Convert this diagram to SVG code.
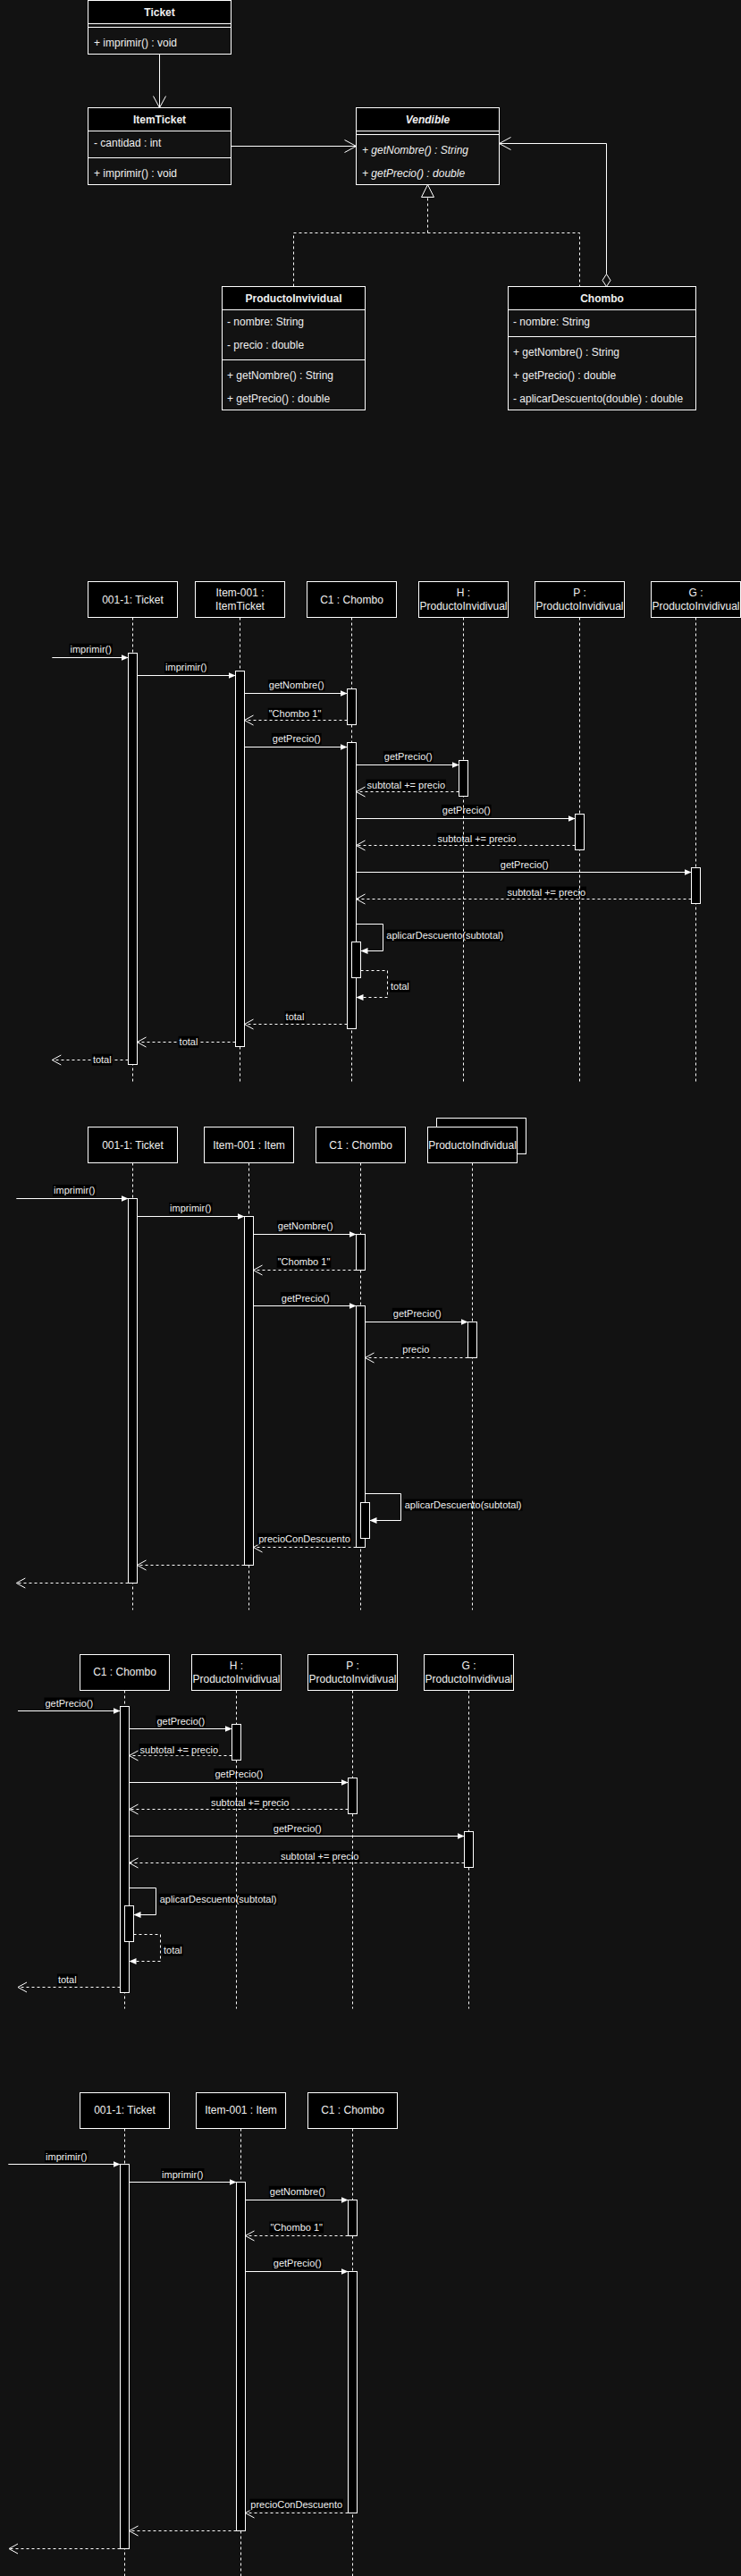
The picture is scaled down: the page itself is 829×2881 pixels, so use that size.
<svg xmlns="http://www.w3.org/2000/svg" width="829" height="2881" viewBox="0 0 829 2881">
<defs>
<style>
text{font-family:"Liberation Sans",Arial,Helvetica,sans-serif;fill:#f0f0f0}
.t12{font-size:12px}
.t11{font-size:11px}
.b{font-weight:bold}
.i{font-style:italic}
.mid{text-anchor:middle}
.hd{fill:#000;stroke:#fff;stroke-width:1}
.bd{fill:#121212;stroke:#fff;stroke-width:1}
.sep{stroke:#fff;stroke-width:1}
.box{fill:#000;stroke:#fff;stroke-width:1}
.life{stroke:#fff;stroke-width:1;stroke-dasharray:3 3;fill:none}
.act{fill:#000;stroke:#fff;stroke-width:1}
.msg{stroke:#fff;stroke-width:1;fill:none;marker-end:url(#blk)}
.ret{stroke:#fff;stroke-width:1;fill:none;stroke-dasharray:3 3;marker-end:url(#opn)}
.sret{stroke:#fff;stroke-width:1;fill:none;stroke-dasharray:3 3;marker-end:url(#blk)}
.lb{fill:#000}
.assoc{stroke:#fff;stroke-width:1;fill:none;marker-end:url(#opnB)}
.real{stroke:#fff;stroke-width:1;fill:none;stroke-dasharray:3 3}
</style>
<marker id="blk" markerUnits="userSpaceOnUse" markerWidth="8" markerHeight="7" refX="8" refY="3.5" orient="auto"><path d="M0,0 L8,3.5 L0,7 Z" fill="#fff"/></marker>
<marker id="opn" markerUnits="userSpaceOnUse" markerWidth="12" markerHeight="13" refX="10" refY="5.5" orient="auto" overflow="visible"><path d="M0,0 L10,5.5 L0,11" fill="none" stroke="#fff" stroke-width="1"/></marker>
<marker id="opnB" markerUnits="userSpaceOnUse" markerWidth="15" markerHeight="16" refX="13" refY="7" orient="auto" overflow="visible"><path d="M0,0 L13,7 L0,14" fill="none" stroke="#fff" stroke-width="1"/></marker>
</defs>
<rect x="0" y="0" width="829" height="2881" fill="#121212"/>

<!-- ================= CLASS DIAGRAM ================= -->
<g id="class-connectors">
<line class="assoc" x1="178.5" y1="60.5" x2="178.5" y2="120.5"/>
<line class="assoc" x1="258.5" y1="163.5" x2="398.5" y2="163.5"/>
<path class="assoc" d="M678.5,306.5 V160.5 H558.5"/>
<polygon points="678.5,320.5 683,313.5 678.5,306.5 674,313.5" fill="#121212" stroke="#fff"/>
<path class="real" d="M328.5,320.5 V260.5 H648.5 V320.5"/>
<path class="real" d="M478.5,260.5 V220.5"/>
<polygon points="478.5,206.5 485.5,220.5 471.5,220.5" fill="#121212" stroke="#fff"/>
</g>

<g id="cls-ticket">
<rect class="bd" x="98.5" y="0.5" width="160" height="60"/>
<rect class="hd" x="98.5" y="0.5" width="160" height="26"/>
<line class="sep" x1="98.5" y1="30.5" x2="258.5" y2="30.5"/>
<text class="t12 b mid" x="178.5" y="18">Ticket</text>
<text class="t12" x="105" y="52">+ imprimir() : void</text>
</g>

<g id="cls-itemticket">
<rect class="bd" x="98.5" y="120.5" width="160" height="86"/>
<rect class="hd" x="98.5" y="120.5" width="160" height="26"/>
<line class="sep" x1="98.5" y1="176.5" x2="258.5" y2="176.5"/>
<text class="t12 b mid" x="178.5" y="138">ItemTicket</text>
<text class="t12" x="105" y="164">- cantidad : int</text>
<text class="t12" x="105" y="197.5">+ imprimir() : void</text>
</g>

<g id="cls-vendible">
<rect class="bd" x="398.5" y="120.5" width="160" height="86"/>
<rect class="hd" x="398.5" y="120.5" width="160" height="26"/>
<line class="sep" x1="398.5" y1="150.5" x2="558.5" y2="150.5"/>
<text class="t12 b i mid" x="478.5" y="138">Vendible</text>
<text class="t12 i" x="405" y="172">+ getNombre() : String</text>
<text class="t12 i" x="405" y="197.5">+ getPrecio() : double</text>
</g>

<g id="cls-productoinvividual">
<rect class="bd" x="248.5" y="320.5" width="160" height="138"/>
<rect class="hd" x="248.5" y="320.5" width="160" height="26"/>
<line class="sep" x1="248.5" y1="402.5" x2="408.5" y2="402.5"/>
<text class="t12 b mid" x="328.5" y="338">ProductoInvividual</text>
<text class="t12" x="254" y="364">- nombre: String</text>
<text class="t12" x="254" y="390">- precio : double</text>
<text class="t12" x="254" y="423.5">+ getNombre() : String</text>
<text class="t12" x="254" y="449.5">+ getPrecio() : double</text>
</g>

<g id="cls-chombo">
<rect class="bd" x="568.5" y="320.5" width="210" height="138"/>
<rect class="hd" x="568.5" y="320.5" width="210" height="26"/>
<line class="sep" x1="568.5" y1="376.5" x2="778.5" y2="376.5"/>
<text class="t12 b mid" x="673.5" y="338">Chombo</text>
<text class="t12" x="574" y="364">- nombre: String</text>
<text class="t12" x="574" y="398">+ getNombre() : String</text>
<text class="t12" x="574" y="423.5">+ getPrecio() : double</text>
<text class="t12" x="574" y="450">- aplicarDescuento(double) : double</text>
</g>

<!-- ================= SEQUENCE 1 ================= -->
<g id="seq1-messages">
<line class="msg" x1="58.3" y1="735.5" x2="143.5" y2="735.5"/>
<rect class="lb" x="77.5" y="719.7" width="48.4" height="13"/>
<text class="t11 mid" x="101.7" y="730.1">imprimir()</text>

<line class="msg" x1="153.5" y1="755.5" x2="263.5" y2="755.5"/>
<rect class="lb" x="184.1" y="740" width="48.4" height="13"/>
<text class="t11 mid" x="208.3" y="750.4">imprimir()</text>

<line class="msg" x1="273.5" y1="775.5" x2="388.5" y2="775.5"/>
<rect class="lb" x="299.85" y="760" width="63.7" height="13"/>
<text class="t11 mid" x="331.7" y="770.4">getNombre()</text>

<line class="ret" x1="388.5" y1="805.5" x2="273.5" y2="805.5"/>
<rect class="lb" x="299.7" y="791.8" width="60.6" height="13"/>
<text class="t11 mid" x="330" y="802.2">"Chombo 1"</text>

<line class="msg" x1="273.5" y1="835.5" x2="388.5" y2="835.5"/>
<rect class="lb" x="303.8" y="819.9" width="55.8" height="13"/>
<text class="t11 mid" x="331.7" y="830.3">getPrecio()</text>

<line class="msg" x1="398.5" y1="855.5" x2="513.5" y2="855.5"/>
<rect class="lb" x="428.8" y="839.9" width="55.8" height="13"/>
<text class="t11 mid" x="456.7" y="850.3">getPrecio()</text>

<line class="ret" x1="513.5" y1="885.5" x2="398.5" y2="885.5"/>
<rect class="lb" x="409.6" y="871.7" width="89.4" height="13"/>
<text class="t11 mid" x="454.3" y="882.1">subtotal += precio</text>

<line class="msg" x1="398.5" y1="915.5" x2="643.5" y2="915.5"/>
<rect class="lb" x="493.8" y="899.8" width="55.8" height="13"/>
<text class="t11 mid" x="521.7" y="910.2">getPrecio()</text>

<line class="ret" x1="643.5" y1="945.5" x2="398.5" y2="945.5"/>
<rect class="lb" x="488.6" y="931.6" width="89.4" height="13"/>
<text class="t11 mid" x="533.3" y="942">subtotal += precio</text>

<line class="msg" x1="398.5" y1="975.5" x2="773.5" y2="975.5"/>
<rect class="lb" x="558.8" y="960.9" width="55.8" height="13"/>
<text class="t11 mid" x="586.7" y="971.3">getPrecio()</text>

<line class="ret" x1="773.5" y1="1005.5" x2="398.5" y2="1005.5"/>
<rect class="lb" x="566.6" y="991.6" width="89.4" height="13"/>
<text class="t11 mid" x="611.3" y="1002">subtotal += precio</text>

<path class="msg" d="M398.5,1033.5 H428.5 V1063.5 H403.5"/>
<rect class="lb" x="431.3" y="1039.7" width="132.8" height="13"/>
<text class="t11" x="432.3" y="1050.1">aplicarDescuento(subtotal)</text>

<path class="sret" d="M403.5,1085.5 H433.5 V1115.5 H398.5"/>
<rect class="lb" x="436" y="1096.6" width="22.8" height="13"/>
<text class="t11" x="437" y="1107">total</text>

<line class="ret" x1="388.5" y1="1145.5" x2="273.5" y2="1145.5"/>
<rect class="lb" x="318.6" y="1130.7" width="22.8" height="13"/>
<text class="t11 mid" x="330" y="1141.1">total</text>

<line class="ret" x1="263.5" y1="1165.5" x2="153.5" y2="1165.5"/>
<rect class="lb" x="199.6" y="1158.8" width="22.8" height="13"/>
<text class="t11 mid" x="211" y="1169.2">total</text>

<line class="ret" x1="143.5" y1="1185.5" x2="58.3" y2="1185.5"/>
<rect class="lb" x="102.9" y="1178.7" width="22.8" height="13"/>
<text class="t11 mid" x="114.3" y="1189.1">total</text>
</g>

<g id="seq1-ticket">
<rect class="box" x="98.5" y="650.5" width="100" height="40"/>
<text class="t12 mid" x="148.5" y="674.7">001-1: Ticket</text>
<line class="life" x1="148.5" y1="690.5" x2="148.5" y2="1210"/>
<rect class="act" x="143.5" y="730.5" width="10" height="460"/>
</g>
<g id="seq1-item">
<rect class="box" x="218.5" y="650.5" width="100" height="40"/>
<text class="t12 mid" x="268.5" y="667.2">Item-001 :</text>
<text class="t12 mid" x="268.5" y="682">ItemTicket</text>
<line class="life" x1="268.5" y1="690.5" x2="268.5" y2="1210"/>
<rect class="act" x="263.5" y="750.5" width="10" height="420"/>
</g>
<g id="seq1-c1">
<rect class="box" x="343.5" y="650.5" width="100" height="40"/>
<text class="t12 mid" x="393.5" y="674.7">C1 : Chombo</text>
<line class="life" x1="393.5" y1="690.5" x2="393.5" y2="1210"/>
<rect class="act" x="388.5" y="770.5" width="10" height="40"/>
<rect class="act" x="388.5" y="830.5" width="10" height="320"/>
<rect class="act" x="393.5" y="1053.5" width="10" height="40"/>
</g>
<g id="seq1-h">
<rect class="box" x="468.5" y="650.5" width="100" height="40"/>
<text class="t12 mid" x="518.5" y="667.2">H :</text>
<text class="t12 mid" x="518.5" y="682">ProductoInvidivual</text>
<line class="life" x1="518.5" y1="690.5" x2="518.5" y2="1210"/>
<rect class="act" x="513.5" y="850.5" width="10" height="40"/>
</g>
<g id="seq1-p">
<rect class="box" x="598.5" y="650.5" width="100" height="40"/>
<text class="t12 mid" x="648.5" y="667.2">P :</text>
<text class="t12 mid" x="648.5" y="682">ProductoInvidivual</text>
<line class="life" x1="648.5" y1="690.5" x2="648.5" y2="1210"/>
<rect class="act" x="643.5" y="910.5" width="10" height="40"/>
</g>
<g id="seq1-g">
<rect class="box" x="728.5" y="650.5" width="100" height="40"/>
<text class="t12 mid" x="778.5" y="667.2">G :</text>
<text class="t12 mid" x="778.5" y="682">ProductoInvidivual</text>
<line class="life" x1="778.5" y1="690.5" x2="778.5" y2="1210"/>
<rect class="act" x="773.5" y="970.5" width="10" height="40"/>
</g>

<!-- ================= SEQUENCE 2 ================= -->
<g id="seq2-messages">
<line class="msg" x1="18.3" y1="1340.5" x2="143.5" y2="1340.5"/>
<rect class="lb" x="59.1" y="1324.9" width="48.4" height="13"/>
<text class="t11 mid" x="83.3" y="1335.3">imprimir()</text>

<line class="msg" x1="153.5" y1="1360.5" x2="273.5" y2="1360.5"/>
<rect class="lb" x="189.1" y="1344.8" width="48.4" height="13"/>
<text class="t11 mid" x="213.3" y="1355.2">imprimir()</text>

<line class="msg" x1="283.5" y1="1380.5" x2="398.5" y2="1380.5"/>
<rect class="lb" x="309.85" y="1364.8" width="63.7" height="13"/>
<text class="t11 mid" x="341.7" y="1375.2">getNombre()</text>

<line class="ret" x1="398.5" y1="1420.5" x2="283.5" y2="1420.5"/>
<rect class="lb" x="309.7" y="1404.8" width="60.6" height="13"/>
<text class="t11 mid" x="340" y="1415.2">"Chombo 1"</text>

<line class="msg" x1="283.5" y1="1460.5" x2="398.5" y2="1460.5"/>
<rect class="lb" x="313.8" y="1445.1" width="55.8" height="13"/>
<text class="t11 mid" x="341.7" y="1455.5">getPrecio()</text>

<line class="msg" x1="408.5" y1="1478.5" x2="523.5" y2="1478.5"/>
<rect class="lb" x="438.8" y="1462.8" width="55.8" height="13"/>
<text class="t11 mid" x="466.7" y="1473.2">getPrecio()</text>

<line class="ret" x1="523.5" y1="1518.5" x2="408.5" y2="1518.5"/>
<rect class="lb" x="449.3" y="1502.8" width="32" height="13"/>
<text class="t11 mid" x="465.3" y="1513.2">precio</text>

<path class="msg" d="M408.5,1670.5 H448.5 V1700.5 H413.5"/>
<rect class="lb" x="451.7" y="1676.6" width="132.8" height="13"/>
<text class="t11" x="452.7" y="1687">aplicarDescuento(subtotal)</text>

<line class="ret" x1="398.5" y1="1730.5" x2="283.5" y2="1730.5"/>
<rect class="lb" x="288.15" y="1714.7" width="104.7" height="13"/>
<text class="t11 mid" x="340.5" y="1725.1">precioConDescuento</text>

<line class="ret" x1="273.5" y1="1750.5" x2="153.5" y2="1750.5"/>
<line class="ret" x1="143.5" y1="1770.5" x2="18.3" y2="1770.5"/>
</g>

<g id="seq2-ticket">
<rect class="box" x="98.5" y="1260.5" width="100" height="40"/>
<text class="t12 mid" x="148.5" y="1284.7">001-1: Ticket</text>
<line class="life" x1="148.5" y1="1300.5" x2="148.5" y2="1800.5"/>
<rect class="act" x="143.5" y="1340.5" width="10" height="430"/>
</g>
<g id="seq2-item">
<rect class="box" x="228.5" y="1260.5" width="100" height="40"/>
<text class="t12 mid" x="278.5" y="1284.7">Item-001 : Item</text>
<line class="life" x1="278.5" y1="1300.5" x2="278.5" y2="1800.5"/>
<rect class="act" x="273.5" y="1360.5" width="10" height="390"/>
</g>
<g id="seq2-c1">
<rect class="box" x="353.5" y="1260.5" width="100" height="40"/>
<text class="t12 mid" x="403.5" y="1284.7">C1 : Chombo</text>
<line class="life" x1="403.5" y1="1300.5" x2="403.5" y2="1800.5"/>
<rect class="act" x="398.5" y="1380.5" width="10" height="40"/>
<rect class="act" x="398.5" y="1460.5" width="10" height="270"/>
<rect class="act" x="403.5" y="1680.5" width="10" height="40"/>
</g>
<g id="seq2-productoindividual">
<rect class="box" x="488.5" y="1250.5" width="100" height="40"/>
<rect class="box" x="478.5" y="1260.5" width="100" height="40"/>
<text class="t12 mid" x="528.5" y="1284.7">ProductoIndividual</text>
<line class="life" x1="528.5" y1="1300.5" x2="528.5" y2="1800.5"/>
<rect class="act" x="523.5" y="1478.5" width="10" height="40"/>
</g>

<!-- ================= SEQUENCE 3 ================= -->
<g id="seq3-messages">
<line class="msg" x1="20" y1="1913.5" x2="134.5" y2="1913.5"/>
<rect class="lb" x="49.4" y="1898.5" width="55.8" height="13"/>
<text class="t11 mid" x="77.3" y="1908.9">getPrecio()</text>

<line class="msg" x1="144.5" y1="1933.5" x2="259.5" y2="1933.5"/>
<rect class="lb" x="174.4" y="1918.5" width="55.8" height="13"/>
<text class="t11 mid" x="202.3" y="1928.9">getPrecio()</text>

<line class="ret" x1="259.5" y1="1963.5" x2="144.5" y2="1963.5"/>
<rect class="lb" x="155.6" y="1950.2" width="89.4" height="13"/>
<text class="t11 mid" x="200.3" y="1960.6">subtotal += precio</text>

<line class="msg" x1="144.5" y1="1993.5" x2="389.5" y2="1993.5"/>
<rect class="lb" x="239.4" y="1977.8" width="55.8" height="13"/>
<text class="t11 mid" x="267.3" y="1988.2">getPrecio()</text>

<line class="ret" x1="389.5" y1="2023.5" x2="144.5" y2="2023.5"/>
<rect class="lb" x="235" y="2009.5" width="89.4" height="13"/>
<text class="t11 mid" x="279.7" y="2019.9">subtotal += precio</text>

<line class="msg" x1="144.5" y1="2053.5" x2="519.5" y2="2053.5"/>
<rect class="lb" x="304.8" y="2038.8" width="55.8" height="13"/>
<text class="t11 mid" x="332.7" y="2049.2">getPrecio()</text>

<line class="ret" x1="519.5" y1="2083.5" x2="144.5" y2="2083.5"/>
<rect class="lb" x="313" y="2069.8" width="89.4" height="13"/>
<text class="t11 mid" x="357.7" y="2080.2">subtotal += precio</text>

<path class="msg" d="M144.5,2111.5 H174.5 V2141.5 H149.5"/>
<rect class="lb" x="177.7" y="2117.8" width="132.8" height="13"/>
<text class="t11" x="178.7" y="2128.2">aplicarDescuento(subtotal)</text>

<path class="sret" d="M149.5,2163.5 H179.5 V2193.5 H144.5"/>
<rect class="lb" x="182" y="2174.5" width="22.8" height="13"/>
<text class="t11" x="183" y="2184.9">total</text>

<line class="ret" x1="134.5" y1="2222.5" x2="20" y2="2222.5"/>
<rect class="lb" x="63.9" y="2207.5" width="22.8" height="13"/>
<text class="t11 mid" x="75.3" y="2217.9">total</text>
</g>

<g id="seq3-c1">
<rect class="box" x="89.5" y="1850.5" width="100" height="40"/>
<text class="t12 mid" x="139.5" y="1874.3">C1 : Chombo</text>
<line class="life" x1="139.5" y1="1890.5" x2="139.5" y2="2246.5"/>
<rect class="act" x="134.5" y="1908.5" width="10" height="320"/>
<rect class="act" x="139.5" y="2131.5" width="10" height="40"/>
</g>
<g id="seq3-h">
<rect class="box" x="214.5" y="1850.5" width="100" height="40"/>
<text class="t12 mid" x="264.5" y="1867">H :</text>
<text class="t12 mid" x="264.5" y="1882">ProductoInvidivual</text>
<line class="life" x1="264.5" y1="1890.5" x2="264.5" y2="2246.5"/>
<rect class="act" x="259.5" y="1928.5" width="10" height="40"/>
</g>
<g id="seq3-p">
<rect class="box" x="344.5" y="1850.5" width="100" height="40"/>
<text class="t12 mid" x="394.5" y="1867">P :</text>
<text class="t12 mid" x="394.5" y="1882">ProductoInvidivual</text>
<line class="life" x1="394.5" y1="1890.5" x2="394.5" y2="2246.5"/>
<rect class="act" x="389.5" y="1988.5" width="10" height="40"/>
</g>
<g id="seq3-g">
<rect class="box" x="474.5" y="1850.5" width="100" height="40"/>
<text class="t12 mid" x="524.5" y="1867">G :</text>
<text class="t12 mid" x="524.5" y="1882">ProductoInvidivual</text>
<line class="life" x1="524.5" y1="1890.5" x2="524.5" y2="2246.5"/>
<rect class="act" x="519.5" y="2048.5" width="10" height="40"/>
</g>

<!-- ================= SEQUENCE 4 ================= -->
<g id="seq4-messages">
<line class="msg" x1="9.3" y1="2420.5" x2="134.5" y2="2420.5"/>
<rect class="lb" x="50.1" y="2405.1" width="48.4" height="13"/>
<text class="t11 mid" x="74.3" y="2415.5">imprimir()</text>

<line class="msg" x1="144.5" y1="2440.5" x2="264.5" y2="2440.5"/>
<rect class="lb" x="180.1" y="2425.1" width="48.4" height="13"/>
<text class="t11 mid" x="204.3" y="2435.5">imprimir()</text>

<line class="msg" x1="274.5" y1="2460.5" x2="389.5" y2="2460.5"/>
<rect class="lb" x="300.85" y="2444.8" width="63.7" height="13"/>
<text class="t11 mid" x="332.7" y="2455.2">getNombre()</text>

<line class="ret" x1="389.5" y1="2500.5" x2="274.5" y2="2500.5"/>
<rect class="lb" x="301.4" y="2484.5" width="60.6" height="13"/>
<text class="t11 mid" x="331.7" y="2494.9">"Chombo 1"</text>

<line class="msg" x1="274.5" y1="2540.5" x2="389.5" y2="2540.5"/>
<rect class="lb" x="304.8" y="2524.9" width="55.8" height="13"/>
<text class="t11 mid" x="332.7" y="2535.3">getPrecio()</text>

<line class="ret" x1="389.5" y1="2810.5" x2="274.5" y2="2810.5"/>
<rect class="lb" x="279.35" y="2794.7" width="104.7" height="13"/>
<text class="t11 mid" x="331.7" y="2805.1">precioConDescuento</text>

<line class="ret" x1="264.5" y1="2830.5" x2="144.5" y2="2830.5"/>
<line class="ret" x1="134.5" y1="2850.5" x2="10" y2="2850.5"/>
</g>

<g id="seq4-ticket">
<rect class="box" x="89.5" y="2340.5" width="100" height="40"/>
<text class="t12 mid" x="139.5" y="2364">001-1: Ticket</text>
<line class="life" x1="139.5" y1="2380.5" x2="139.5" y2="2881"/>
<rect class="act" x="134.5" y="2420.5" width="10" height="430"/>
</g>
<g id="seq4-item">
<rect class="box" x="219.5" y="2340.5" width="100" height="40"/>
<text class="t12 mid" x="269.5" y="2364">Item-001 : Item</text>
<line class="life" x1="269.5" y1="2380.5" x2="269.5" y2="2881"/>
<rect class="act" x="264.5" y="2440.5" width="10" height="390"/>
</g>
<g id="seq4-c1">
<rect class="box" x="344.5" y="2340.5" width="100" height="40"/>
<text class="t12 mid" x="394.5" y="2364">C1 : Chombo</text>
<line class="life" x1="394.5" y1="2380.5" x2="394.5" y2="2881"/>
<rect class="act" x="389.5" y="2460.5" width="10" height="40"/>
<rect class="act" x="389.5" y="2540.5" width="10" height="270"/>
</g>
</svg>
